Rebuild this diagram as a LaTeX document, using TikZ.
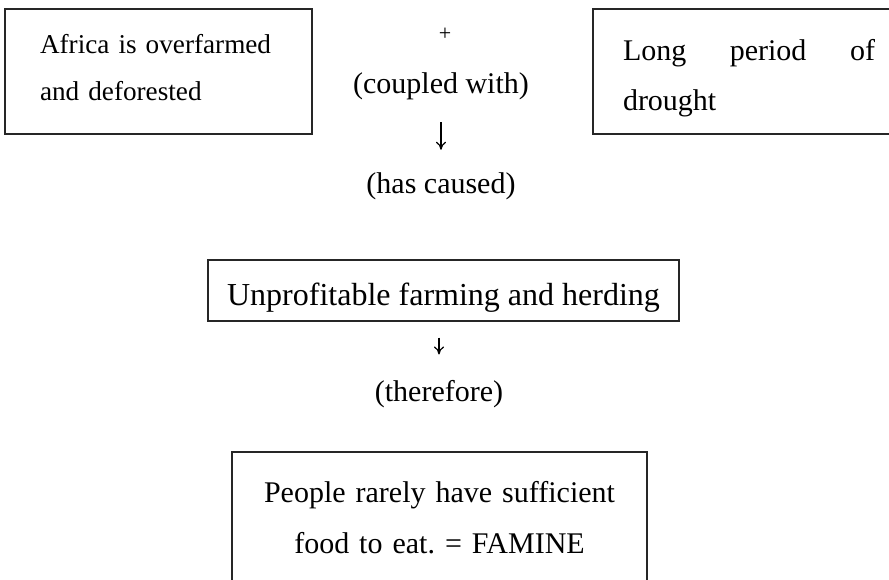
\documentclass[tikz,border=0pt]{standalone}
\usepackage{fontspec}
\setmainfont{Liberation Serif}
\usepackage{tikz}
\usetikzlibrary{arrows.meta}
\tikzset{
    >={To[length=4pt, width=5pt]},
    textbox/.style={
        rectangle,
        draw=black!85, line width=0.6pt,
        inner ysep=0pt,
        text=black
    },
    linktext/.style={
        inner sep=0pt,
        anchor=base,
        font={\fontsize{15pt}{18pt}\selectfont}
    },
    link/.style={draw, line width=0.6pt, ->},
}

\begin{document}
\begin{tikzpicture}[x=0.5pt, y=-0.5pt]

\useasboundingbox (0,0) rectangle (889,579);
\clip (0,0) rectangle (889,579);

\node [textbox, align=left, text width=118.5pt, inner xsep=17.5pt,
  minimum height=62.5pt, text height=10pt, text depth=28.5pt,
  font={\fontsize{13.6pt}{23.5pt}\selectfont}] (africa) at (158.5,71.5)
  {Africa is overfarmed\\and deforested};

\node [textbox, align=left, text width=126pt, inner xsep=15pt,
  minimum height=62.5pt, text height=10pt, text depth=21.5pt,
  font={\fontsize{15pt}{25pt}\selectfont}] (drought) at (749,71.5)
  {Long\hfill period\hfill of\\drought};

\node [textbox, minimum width=235.5pt, minimum height=30.5pt, inner xsep=0pt,
  text height=16pt, text depth=1.5pt,
  font={\fontsize{16pt}{19pt}\selectfont}] (unprof) at (443.5,290.5)
  {Unprofitable farming and herding};

\node [textbox, align=center, text width=187.5pt, inner xsep=10pt,
  minimum height=74pt, text height=10pt, text depth=34pt,
  font={\fontsize{15pt}{25.5pt}\selectfont}] (famine) at (439.5,526)
  {People rarely have sufficient\\food to eat.\ = FAMINE};

\node [linktext, font={\fontsize{11pt}{12pt}\selectfont}] (plus) at (445,40) {+};

\foreach \n/\x/\y/\t in {coupled/441/93/{(coupled with)},
    caused/441/193/{(has caused)}, therefore/439/401/{(therefore)}}
  \node [linktext] (\n) at (\x,\y) {\t};

\foreach \a/\b/\s/\e in {coupled/caused/11.25pt/11pt, unprof/therefore/8pt/12.5pt}
  \draw [link, shorten <=\s, shorten >=\e] (\a.south -| \b) -- (\b);

\end{tikzpicture}
\end{document}
